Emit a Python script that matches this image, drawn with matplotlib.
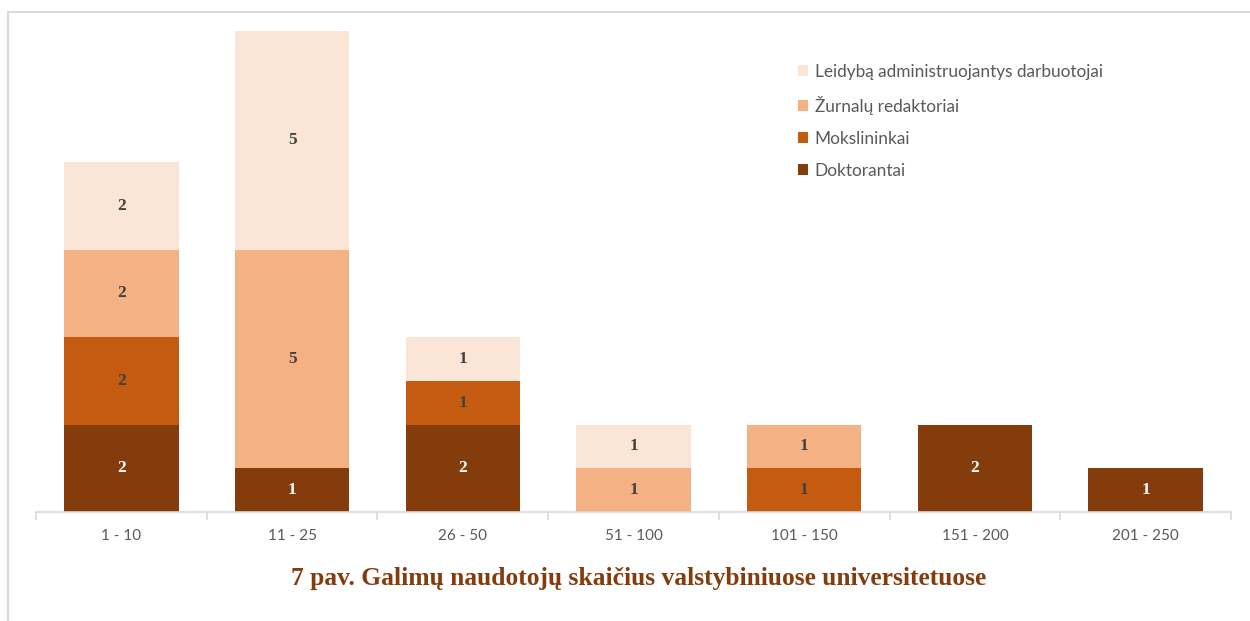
import matplotlib.pyplot as plt
import numpy as np
from matplotlib.patches import Rectangle

categories = ["1 - 10", "11 - 25", "26 - 50", "51 - 100", "101 - 150", "151 - 200", "201 - 250"]
doktorantai = [2, 1, 2, 0, 0, 2, 1]
mokslininkai = [2, 0, 1, 0, 1, 0, 0]
redaktoriai = [2, 5, 0, 1, 1, 0, 0]
leidyba = [2, 5, 1, 1, 0, 0, 0]

series = [
    ("Doktorantai", doktorantai, "#843C0C", "white"),
    ("Mokslininkai", mokslininkai, "#C55A11", "#404040"),
    ("Žurnalų redaktoriai", redaktoriai, "#F4B183", "#404040"),
    ("Leidybą administruojantys darbuotojai", leidyba, "#FBE5D6", "#404040"),
]

W, H = 1250, 621
fig = plt.figure(figsize=(W / 100, H / 100), dpi=100)
ax = fig.add_axes([36 / W, 1 - 512 / H, (1231 - 36) / W, (512 - 31) / H])

x = np.arange(len(categories))
bottom = np.zeros(len(categories))
handles = []
for name, vals, color, tcolor in series:
    vals = np.array(vals, dtype=float)
    bars = ax.bar(x, vals, width=0.67, bottom=bottom, color=color, label=name)
    handles.append(bars)
    for xi, v, b in zip(x, vals, bottom):
        if v > 0:
            ax.text(xi, b + v / 2, f"{int(v)}", ha="center", va="center",
                    fontsize=12.5, fontweight="bold", color=tcolor,
                    family="Liberation Serif")
    bottom += vals

ax.set_xlim(-0.5, len(categories) - 0.5)
ax.set_ylim(0, 11)
ax.set_yticks([])
for s in ["top", "right", "left"]:
    ax.spines[s].set_visible(False)
ax.spines["bottom"].set_color("#D9D9D9")
ax.spines["bottom"].set_linewidth(1.2)
ax.set_xticks(x)
ax.set_xticklabels(categories, fontsize=11, color="#595959", family="Lato")
ax.tick_params(axis="x", length=0, pad=12)
ax.set_xticks(np.arange(len(categories) + 1) - 0.5, minor=True)
ax.tick_params(axis="x", which="minor", length=6, color="#D9D9D9", width=1.2)

leg = ax.legend(handles=handles[::-1], loc="upper left",
                bbox_to_anchor=((782 - 36) / (1231 - 36), 1 - (48 - 31) / (512 - 31)),
                frameon=False, prop={"family": "Lato", "size": 12.4},
                labelspacing=0.93, handlelength=0.6, handleheight=0.6,
                handletextpad=0.4, labelcolor="#595959")

fig.text(639 / W, 1 - 578 / H, "7 pav. Galimų naudotojų skaičius valstybiniuose universitetuose",
         ha="center", va="center", fontsize=18.4, fontweight="bold",
         color="#843C0C", family="Liberation Serif")

fig.add_artist(Rectangle((7.5 / W, -0.1), 1.2, 1 - 11.5 / H + 0.1,
                         transform=fig.transFigure, fill=False,
                         edgecolor="#D9D9D9", linewidth=1.5))

fig.savefig("out.png", dpi=100)
